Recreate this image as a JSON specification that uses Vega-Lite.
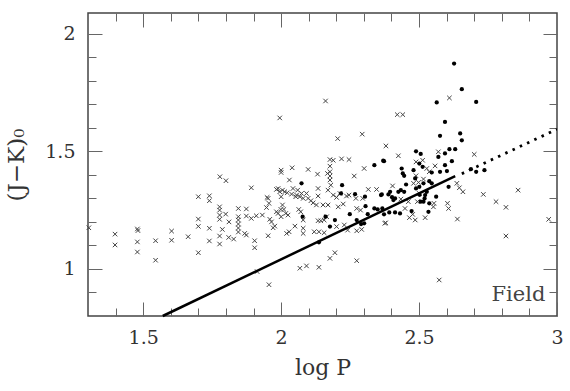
{
  "$schema": "https://vega.github.io/schema/vega-lite/v6.json",
  "width": 469,
  "height": 303,
  "autosize": {"type": "none"},
  "padding": {"left": 88, "top": 13, "right": 13, "bottom": 75},
  "background": "white",
  "config": {
    "view": {"stroke": "#444", "strokeWidth": 1.5},
    "axis": {
      "domain": false,
      "grid": false,
      "tickColor": "#666",
      "tickWidth": 1,
      "labelFont": "DejaVu Serif",
      "labelFontSize": 19,
      "labelColor": "#333",
      "titleFont": "DejaVu Serif",
      "titleFontSize": 22,
      "titleFontWeight": "normal",
      "titleColor": "#333",
      "labelFlush": false,
      "labelOverlap": false
    }
  },
  "datasets": {
    "crosses": [
      {"logP":1.303,"jk":1.175},{"logP":1.398,"jk":1.148},{"logP":1.398,"jk":1.102},{"logP":1.479,"jk":1.170},
      {"logP":1.481,"jk":1.163},{"logP":1.479,"jk":1.115},{"logP":1.479,"jk":1.072},{"logP":1.545,"jk":1.120},
      {"logP":1.545,"jk":1.037},{"logP":1.603,"jk":1.161},{"logP":1.603,"jk":1.122},{"logP":1.663,"jk":1.137},
      {"logP":1.700,"jk":1.307},{"logP":1.700,"jk":1.212},{"logP":1.700,"jk":1.181},{"logP":1.700,"jk":1.069},
      {"logP":1.740,"jk":1.311},{"logP":1.740,"jk":1.290},{"logP":1.740,"jk":1.173},{"logP":1.740,"jk":1.119},
      {"logP":1.778,"jk":1.392},{"logP":1.800,"jk":1.375},{"logP":1.892,"jk":1.345},{"logP":2.000,"jk":1.420},
      {"logP":2.000,"jk":1.410},{"logP":2.040,"jk":1.430},{"logP":2.030,"jk":1.378},{"logP":1.777,"jk":1.264},
      {"logP":1.777,"jk":1.250},{"logP":1.777,"jk":1.229},{"logP":1.777,"jk":1.211},{"logP":1.799,"jk":1.233},
      {"logP":1.811,"jk":1.200},{"logP":1.787,"jk":1.168},{"logP":1.777,"jk":1.140},{"logP":1.777,"jk":1.106},
      {"logP":1.810,"jk":1.134},{"logP":1.828,"jk":1.127},{"logP":1.845,"jk":1.257},{"logP":1.845,"jk":1.222},
      {"logP":1.845,"jk":1.208},{"logP":1.845,"jk":1.191},{"logP":1.845,"jk":1.174},{"logP":1.845,"jk":1.157},
      {"logP":1.874,"jk":1.255},{"logP":1.874,"jk":1.225},{"logP":1.892,"jk":1.215},{"logP":1.910,"jk":1.226},
      {"logP":1.868,"jk":1.151},{"logP":1.874,"jk":1.144},{"logP":1.904,"jk":1.120},{"logP":1.904,"jk":1.090},
      {"logP":1.932,"jk":1.229},{"logP":1.947,"jk":1.261},{"logP":1.953,"jk":1.300},{"logP":1.956,"jk":1.279},
      {"logP":1.959,"jk":1.211},{"logP":1.965,"jk":1.200},{"logP":1.971,"jk":1.175},{"logP":1.977,"jk":1.182},
      {"logP":1.953,"jk":1.141},{"logP":1.983,"jk":1.338},{"logP":1.989,"jk":1.342},{"logP":1.995,"jk":1.328},
      {"logP":2.005,"jk":1.335},{"logP":2.013,"jk":1.328},{"logP":2.022,"jk":1.324},{"logP":2.000,"jk":1.307},
      {"logP":2.005,"jk":1.272},{"logP":1.999,"jk":1.253},{"logP":2.010,"jk":1.253},{"logP":2.017,"jk":1.236},
      {"logP":2.025,"jk":1.229},{"logP":1.989,"jk":1.236},{"logP":2.000,"jk":1.222},{"logP":1.983,"jk":1.243},
      {"logP":2.038,"jk":1.318},{"logP":2.043,"jk":1.342},{"logP":2.053,"jk":1.307},{"logP":2.050,"jk":1.182},
      {"logP":2.020,"jk":1.151},{"logP":2.029,"jk":1.158},{"logP":1.913,"jk":0.989},{"logP":1.956,"jk":0.933},
      {"logP":2.161,"jk":1.714},{"logP":2.205,"jk":1.554},{"logP":2.294,"jk":1.573},{"logP":2.177,"jk":1.465},
      {"logP":2.189,"jk":1.462},{"logP":2.219,"jk":1.468},{"logP":2.246,"jk":1.465},{"logP":2.177,"jk":1.437},
      {"logP":2.177,"jk":1.413},{"logP":2.177,"jk":1.395},{"logP":2.098,"jk":1.423},{"logP":2.132,"jk":1.403},
      {"logP":2.168,"jk":1.406},{"logP":2.265,"jk":1.395},{"logP":2.301,"jk":1.427},{"logP":2.177,"jk":1.378},
      {"logP":2.180,"jk":1.356},{"logP":2.134,"jk":1.342},{"logP":2.170,"jk":1.335},{"logP":2.060,"jk":1.335},
      {"logP":2.074,"jk":1.321},{"logP":2.092,"jk":1.321},{"logP":2.056,"jk":1.314},{"logP":2.068,"jk":1.307},
      {"logP":2.080,"jk":1.300},{"logP":2.098,"jk":1.300},{"logP":2.134,"jk":1.310},{"logP":2.108,"jk":1.290},
      {"logP":2.116,"jk":1.281},{"logP":2.128,"jk":1.272},{"logP":2.152,"jk":1.272},{"logP":2.170,"jk":1.272},
      {"logP":2.189,"jk":1.314},{"logP":2.201,"jk":1.304},{"logP":2.213,"jk":1.321},{"logP":2.237,"jk":1.310},
      {"logP":2.246,"jk":1.314},{"logP":2.207,"jk":1.264},{"logP":2.225,"jk":1.276},{"logP":2.271,"jk":1.300},
      {"logP":2.296,"jk":1.300},{"logP":2.316,"jk":1.338},{"logP":2.346,"jk":1.338},{"logP":2.274,"jk":1.257},
      {"logP":2.288,"jk":1.250},{"logP":2.064,"jk":1.253},{"logP":2.071,"jk":1.243},{"logP":2.080,"jk":1.208},
      {"logP":2.134,"jk":1.205},{"logP":2.144,"jk":1.205},{"logP":2.156,"jk":1.208},{"logP":2.165,"jk":1.222},
      {"logP":2.080,"jk":1.173},{"logP":2.080,"jk":1.151},{"logP":2.120,"jk":1.158},{"logP":2.137,"jk":1.158},
      {"logP":2.156,"jk":1.154},{"logP":2.201,"jk":1.180},{"logP":2.229,"jk":1.187},{"logP":2.241,"jk":1.165},
      {"logP":2.274,"jk":1.162},{"logP":2.292,"jk":1.168},{"logP":2.195,"jk":1.069},{"logP":2.177,"jk":1.045},
      {"logP":2.274,"jk":1.035},{"logP":2.068,"jk":1.003},{"logP":2.092,"jk":1.013},{"logP":2.137,"jk":1.007},
      {"logP":2.421,"jk":1.656},{"logP":2.441,"jk":1.656},{"logP":2.380,"jk":1.523},{"logP":2.425,"jk":1.481},
      {"logP":2.489,"jk":1.455},{"logP":2.537,"jk":1.413},{"logP":2.528,"jk":1.427},{"logP":2.513,"jk":1.462},
      {"logP":2.489,"jk":1.396},{"logP":2.516,"jk":1.382},{"logP":2.404,"jk":1.353},{"logP":2.480,"jk":1.364},
      {"logP":2.498,"jk":1.368},{"logP":2.501,"jk":1.321},{"logP":2.461,"jk":1.286},{"logP":2.434,"jk":1.297},
      {"logP":2.449,"jk":1.257},{"logP":2.477,"jk":1.232},{"logP":2.465,"jk":1.218},{"logP":2.486,"jk":1.208},
      {"logP":2.522,"jk":1.218},{"logP":2.376,"jk":1.194},{"logP":2.494,"jk":1.286},{"logP":2.610,"jk":1.727},
      {"logP":2.570,"jk":1.498},{"logP":2.558,"jk":1.438},{"logP":2.700,"jk":1.487},{"logP":2.637,"jk":1.364},
      {"logP":2.646,"jk":1.345},{"logP":2.659,"jk":1.328},{"logP":2.554,"jk":1.279},{"logP":2.552,"jk":1.264},
      {"logP":2.603,"jk":1.279},{"logP":2.607,"jk":1.257},{"logP":2.639,"jk":1.212},{"logP":2.733,"jk":1.317},
      {"logP":2.779,"jk":1.286},{"logP":2.815,"jk":1.262},{"logP":2.859,"jk":1.335},{"logP":2.815,"jk":1.140},
      {"logP":2.970,"jk":1.211},{"logP":2.573,"jk":0.953},{"logP":1.995,"jk":1.642},{"logP":1.949,"jk":1.304},
      {"logP":2.379,"jk":1.196}
    ],
    "dots": [
      {"logP":2.074,"jk":1.364},{"logP":2.078,"jk":1.222},{"logP":2.221,"jk":1.356},{"logP":2.217,"jk":1.321},
      {"logP":2.268,"jk":1.318},{"logP":2.304,"jk":1.307},{"logP":2.338,"jk":1.441},{"logP":2.370,"jk":1.460},
      {"logP":2.362,"jk":1.314},{"logP":2.306,"jk":1.267},{"logP":2.338,"jk":1.257},{"logP":2.350,"jk":1.253},
      {"logP":2.367,"jk":1.257},{"logP":2.249,"jk":1.233},{"logP":2.195,"jk":1.208},{"logP":2.274,"jk":1.208},
      {"logP":2.290,"jk":1.191},{"logP":2.301,"jk":1.194},{"logP":2.314,"jk":1.233},{"logP":2.177,"jk":1.180},
      {"logP":2.161,"jk":1.222},{"logP":2.137,"jk":1.113},{"logP":2.373,"jk":1.458},{"logP":2.489,"jk":1.500},
      {"logP":2.506,"jk":1.489},{"logP":2.501,"jk":1.448},{"logP":2.513,"jk":1.434},{"logP":2.437,"jk":1.427},
      {"logP":2.441,"jk":1.406},{"logP":2.446,"jk":1.396},{"logP":2.480,"jk":1.420},{"logP":2.486,"jk":1.385},
      {"logP":2.453,"jk":1.359},{"logP":2.434,"jk":1.335},{"logP":2.446,"jk":1.328},{"logP":2.425,"jk":1.328},
      {"logP":2.395,"jk":1.328},{"logP":2.365,"jk":1.317},{"logP":2.389,"jk":1.317},{"logP":2.402,"jk":1.305},
      {"logP":2.413,"jk":1.300},{"logP":2.407,"jk":1.293},{"logP":2.392,"jk":1.240},{"logP":2.413,"jk":1.240},
      {"logP":2.431,"jk":1.236},{"logP":2.373,"jk":1.232},{"logP":2.473,"jk":1.246},{"logP":2.516,"jk":1.286},
      {"logP":2.522,"jk":1.314},{"logP":2.528,"jk":1.328},{"logP":2.537,"jk":1.279},{"logP":2.534,"jk":1.243},
      {"logP":2.506,"jk":1.286},{"logP":2.516,"jk":1.364},{"logP":2.537,"jk":1.373},{"logP":2.501,"jk":1.349},
      {"logP":2.489,"jk":1.342},{"logP":2.627,"jk":1.873},{"logP":2.655,"jk":1.764},{"logP":2.564,"jk":1.708},
      {"logP":2.707,"jk":1.710},{"logP":2.594,"jk":1.625},{"logP":2.576,"jk":1.566},{"logP":2.649,"jk":1.576},
      {"logP":2.655,"jk":1.547},{"logP":2.610,"jk":1.509},{"logP":2.631,"jk":1.509},{"logP":2.594,"jk":1.491},
      {"logP":2.570,"jk":1.476},{"logP":2.619,"jk":1.458},{"logP":2.594,"jk":1.441},{"logP":2.576,"jk":1.413},
      {"logP":2.601,"jk":1.416},{"logP":2.546,"jk":1.410},{"logP":2.607,"jk":1.349},{"logP":2.562,"jk":1.307},
      {"logP":2.707,"jk":1.413},{"logP":2.688,"jk":1.424},{"logP":2.546,"jk":1.364},{"logP":2.737,"jk":1.420},
      {"logP":2.502,"jk":1.315},{"logP":2.520,"jk":1.300}
    ],
    "fitSolid": [{"logP":1.571,"jk":0.8},{"logP":2.631,"jk":1.395}],
    "fitDotted": [{"logP":2.655,"jk":1.405},{"logP":3.0,"jk":1.594}],
    "labels": [{"logP":2.958,"jk":0.862,"text":"Field"}]
  },
  "resolve": {"axis": {"x": "independent", "y": "independent"}},
  "layer": [
    {
      "data": {"name": "crosses"},
      "mark": {"type": "point", "shape": "M-1,-1L1,1M1,-1L-1,1", "filled": false, "stroke": "#444", "strokeWidth": 1, "size": 20, "opacity": 1},
      "encoding": {
        "x": {"field": "logP", "type": "quantitative", "scale": {"domain": [1.3, 3], "nice": false, "zero": false},
              "axis": {"orient": "bottom", "values": [1.5, 2, 2.5, 3], "tickSize": -14, "labelPadding": 26, "format": "~g", "title": "log P", "titlePadding": 10}},
        "y": {"field": "jk", "type": "quantitative", "scale": {"domain": [0.8, 2.088], "nice": false, "zero": false},
              "axis": {"orient": "left", "values": [1, 1.5, 2], "tickSize": -14, "labelPadding": 27, "format": "~g", "title": "(J−K)₀", "titleFontSize": 23, "titlePadding": 16}}
      }
    },
    {
      "data": {"name": "dots"},
      "mark": {"type": "point", "shape": "circle", "filled": true, "color": "black", "size": 18, "opacity": 1},
      "encoding": {
        "x": {"field": "logP", "type": "quantitative",
              "axis": {"orient": "bottom", "values": [1.4, 1.6, 1.7, 1.8, 1.9, 2.1, 2.2, 2.3, 2.4, 2.6, 2.7, 2.8, 2.9], "tickSize": -8, "labels": false, "title": null}},
        "y": {"field": "jk", "type": "quantitative",
              "axis": {"orient": "left", "values": [0.9, 1.1, 1.2, 1.3, 1.4, 1.6, 1.7, 1.8, 1.9], "tickSize": -8, "labels": false, "title": null}}
      }
    },
    {
      "data": {"name": "fitSolid"},
      "mark": {"type": "line", "color": "black", "strokeWidth": 2.5},
      "encoding": {
        "x": {"field": "logP", "type": "quantitative",
              "axis": {"orient": "top", "values": [1.5, 2, 2.5], "tickSize": -14, "labels": false, "title": null}},
        "y": {"field": "jk", "type": "quantitative",
              "axis": {"orient": "right", "values": [1, 1.5, 2], "tickSize": -14, "labels": false, "title": null}}
      }
    },
    {
      "data": {"name": "fitDotted"},
      "mark": {"type": "line", "color": "black", "strokeWidth": 2.8, "strokeDash": [2.5, 5.5], "clip": true},
      "encoding": {
        "x": {"field": "logP", "type": "quantitative",
              "axis": {"orient": "top", "values": [1.4, 1.6, 1.7, 1.8, 1.9, 2.1, 2.2, 2.3, 2.4, 2.6, 2.7, 2.8, 2.9], "tickSize": -8, "labels": false, "title": null}},
        "y": {"field": "jk", "type": "quantitative",
              "axis": {"orient": "right", "values": [0.9, 1.1, 1.2, 1.3, 1.4, 1.6, 1.7, 1.8, 1.9], "tickSize": -8, "labels": false, "title": null}}
      }
    },
    {
      "data": {"name": "labels"},
      "mark": {"type": "text", "align": "right", "baseline": "alphabetic", "font": "DejaVu Serif", "fontSize": 21, "color": "#444"},
      "encoding": {
        "x": {"field": "logP", "type": "quantitative", "axis": null},
        "y": {"field": "jk", "type": "quantitative", "axis": null},
        "text": {"field": "text"}
      }
    }
  ]
}
